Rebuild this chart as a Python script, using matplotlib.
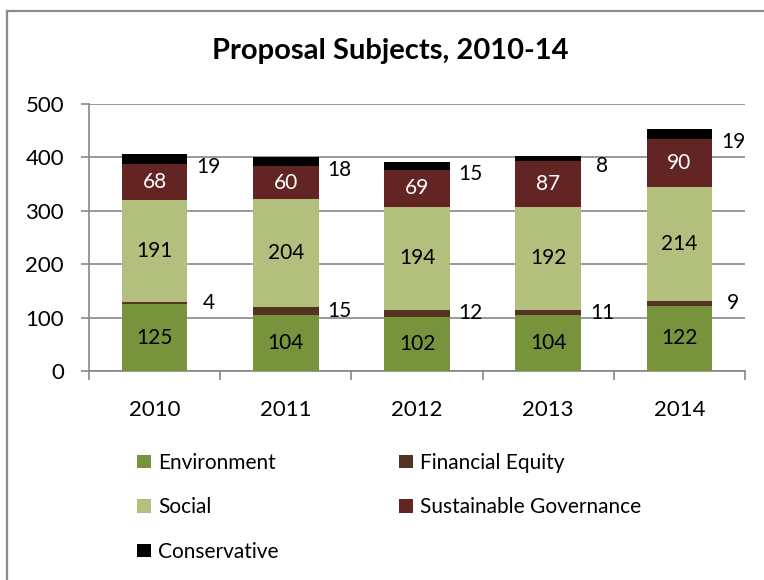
import matplotlib
matplotlib.use("Agg")
import matplotlib.pyplot as plt
import numpy as np
from matplotlib.lines import Line2D
from matplotlib.patches import Patch

plt.rcParams["font.family"] = ["Lato", "DejaVu Sans"]

years = ["2010", "2011", "2012", "2013", "2014"]
environment = [125, 104, 102, 104, 122]
financial_equity = [4, 15, 12, 11, 9]
social = [191, 204, 194, 192, 214]
sustainable_governance = [68, 60, 69, 87, 90]
conservative = [19, 18, 15, 8, 19]

series = [
    ("Environment", environment, "#77933C", "inside", "black"),
    ("Financial Equity", financial_equity, "#553322", "outside", "black"),
    ("Social", social, "#B3BF7D", "inside", "black"),
    ("Sustainable Governance", sustainable_governance, "#632523", "inside", "white"),
    ("Conservative", conservative, "#000000", "outside", "black"),
]

GRAY = "#878787"

fig = plt.figure(figsize=(7.64, 5.8), dpi=100)
ax = fig.add_axes([0.1165, 0.3603, 0.8586, 0.4604])

x = np.arange(len(years))
bottom = np.zeros(len(years))
handles = {}
for name, values, color, where, text_color in series:
    vals = np.array(values, dtype=float)
    ax.bar(x, vals, width=0.5, bottom=bottom, color=color, zorder=3)
    handles[name] = Patch(facecolor=color, label=name)
    for xi, b, v in zip(x, bottom, vals):
        if where == "inside":
            ax.text(xi, b + v / 2, f"{int(v)}", ha="center", va="center",
                    fontsize=15, color=text_color, zorder=4)
        else:
            # small segments get their value beside the bar
            y = b + v / 2
            if name == "Conservative":
                y -= 15
            ax.text(xi + 0.41, y, f"{int(v)}", ha="center", va="center",
                    fontsize=15, color=text_color, zorder=4)
    bottom += vals

ax.set_xlim(-0.5, len(years) - 0.5)
ax.set_ylim(0, 500)
ax.set_yticks(range(0, 501, 100))
ax.grid(axis="y", color=GRAY, linewidth=1.2, zorder=0)

ax.set_xticks(x)
ax.set_xticklabels(years)
ax.set_xticks(np.arange(-0.5, len(years)), minor=True)
ax.tick_params(axis="x", which="major", length=0, pad=21, labelsize=16)
ax.tick_params(axis="x", which="minor", length=6.5, width=1.2, color=GRAY)
ax.tick_params(axis="y", length=6, width=1.2, color=GRAY, pad=12, labelsize=16)

for side in ["top", "right"]:
    ax.spines[side].set_visible(False)
for side in ["left", "bottom"]:
    ax.spines[side].set_color(GRAY)
    ax.spines[side].set_linewidth(1.2)

fig.text(0.511, 0.912, "Proposal Subjects, 2010-14", ha="center", va="center",
         fontsize=21, fontweight="bold")

legend_kw = dict(frameon=False, fontsize=15, handlelength=0.68, handleheight=0.62,
                 handletextpad=0.35, labelspacing=1.17, borderpad=0, borderaxespad=0)
fig.legend(handles=[handles["Environment"], handles["Social"], handles["Conservative"]],
           loc="upper left", bbox_to_anchor=(0.179, 0.219), **legend_kw)
fig.legend(handles=[handles["Financial Equity"], handles["Sustainable Governance"]],
           loc="upper left", bbox_to_anchor=(0.522, 0.219), **legend_kw)

# outer chart border: only the top and left edges fall inside the canvas
top = 1 - 11 / 580
left = 7 / 764
fig.add_artist(Line2D([left, 1.0], [top, top], transform=fig.transFigure,
                      color="#8C8C8C", linewidth=1.6))
fig.add_artist(Line2D([left, left], [0.0, top], transform=fig.transFigure,
                      color="#8C8C8C", linewidth=1.6))

fig.savefig("out.png", dpi=100)
